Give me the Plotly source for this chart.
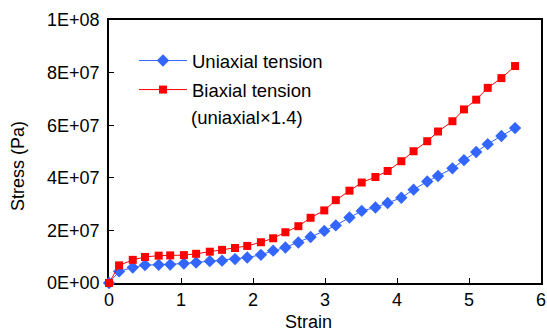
import plotly.graph_objects as go

strain = [0.0, 0.14, 0.33, 0.50, 0.69, 0.85, 1.04, 1.21, 1.40, 1.57, 1.75, 1.92,
          2.11, 2.28, 2.45, 2.63, 2.80, 2.99, 3.15, 3.34, 3.51, 3.70, 3.87, 4.06,
          4.23, 4.42, 4.57, 4.77, 4.93, 5.10, 5.26, 5.45, 5.64]

uniaxial = [0.0, 4.4, 5.9, 6.8, 6.9, 7.0, 7.4, 7.8, 8.3, 8.5, 9.1, 9.7,
            10.7, 12.3, 13.5, 15.4, 17.5, 19.8, 21.9, 24.9, 27.4, 28.7, 30.4, 32.4,
            35.5, 38.6, 40.7, 43.6, 46.7, 49.8, 52.8, 55.9, 58.9]
uniaxial = [v * 1e6 for v in uniaxial]

biaxial = [0.0, 6.7, 8.8, 9.9, 10.4, 10.5, 10.6, 11.1, 11.9, 12.6, 13.3, 14.1,
           15.5, 17.0, 19.3, 21.6, 24.8, 27.6, 31.5, 35.1, 38.2, 40.3, 42.6, 46.3,
           50.1, 53.9, 57.6, 61.5, 66.0, 69.7, 74.2, 77.9, 82.5]
biaxial = [v * 1e6 for v in biaxial]

yticks = [0, 2e7, 4e7, 6e7, 8e7, 1e8]
yticklabels = ["0E+00", "2E+07", "4E+07", "6E+07", "8E+07", "1E+08"]

FONT = "Liberation Sans, Arial, sans-serif"
FS = 18

L, R, T, B = 109, 6, 20, 48
W, H = 547, 331
pw = W - L - R
ph = H - T - B


def px(xpix):
    return (xpix - L) / pw


def py(ypix):
    return (H - B - ypix) / ph


fig = go.Figure()
fig.add_trace(go.Scatter(
    x=strain, y=uniaxial, mode="lines+markers", name="Uniaxial tension",
    line=dict(color="#3366FF", width=1),
    marker=dict(symbol="diamond", size=9.5, color="#3366FF"),
    legendgroup="a", cliponaxis=False,
))
fig.add_trace(go.Scatter(
    x=strain, y=biaxial, mode="lines+markers",
    name="Biaxial tension",
    line=dict(color="#FF0000", width=1),
    marker=dict(symbol="square", size=8, color="#FF0000"),
    legendgroup="b", cliponaxis=False,
))

axis_common = dict(showgrid=False, zeroline=False, showline=True, mirror=True,
                   linecolor="black", linewidth=1.5, ticks="inside", ticklen=5,
                   tickwidth=1, tickcolor="black", automargin=False,
                   tickfont=dict(size=FS), layer="below traces")

fig.update_layout(
    width=W, height=H,
    margin=dict(l=L, r=R, t=T, b=B, autoexpand=False),
    paper_bgcolor="white", plot_bgcolor="white",
    font=dict(family=FONT, size=FS, color="black"),
    showlegend=True,
    legend=dict(x=px(134), y=py(42), xanchor="left", yanchor="top",
                bgcolor="rgba(0,0,0,0)", valign="middle", itemwidth=48,
                tracegroupgap=2, font=dict(size=18.5)),
    xaxis=dict(range=[0, 6], tickvals=[0, 1, 2, 3, 4, 5, 6], **axis_common),
    yaxis=dict(range=[0, 1e8], tickvals=yticks, ticktext=yticklabels,
               ticklabelstandoff=4, **axis_common),
    annotations=[
        dict(text="Strain", x=px(308), y=py(322), xref="paper", yref="paper",
             xanchor="center", yanchor="middle", showarrow=False,
             font=dict(size=FS)),
        dict(text="Stress (Pa)", textangle=-90, x=px(18), y=py(166),
             xref="paper", yref="paper", xanchor="center", yanchor="middle",
             showarrow=False, font=dict(size=FS)),
        dict(text="(uniaxial\u00d71.4)", x=px(189), y=py(118),
             xref="paper", yref="paper", xanchor="left", yanchor="middle",
             showarrow=False, font=dict(size=18.5)),
    ],
)

fig.write_html("out.html",
               config={"displayModeBar": False},
               post_script="document.body.style.margin='0';"
                           "document.body.style.overflow='hidden';")
